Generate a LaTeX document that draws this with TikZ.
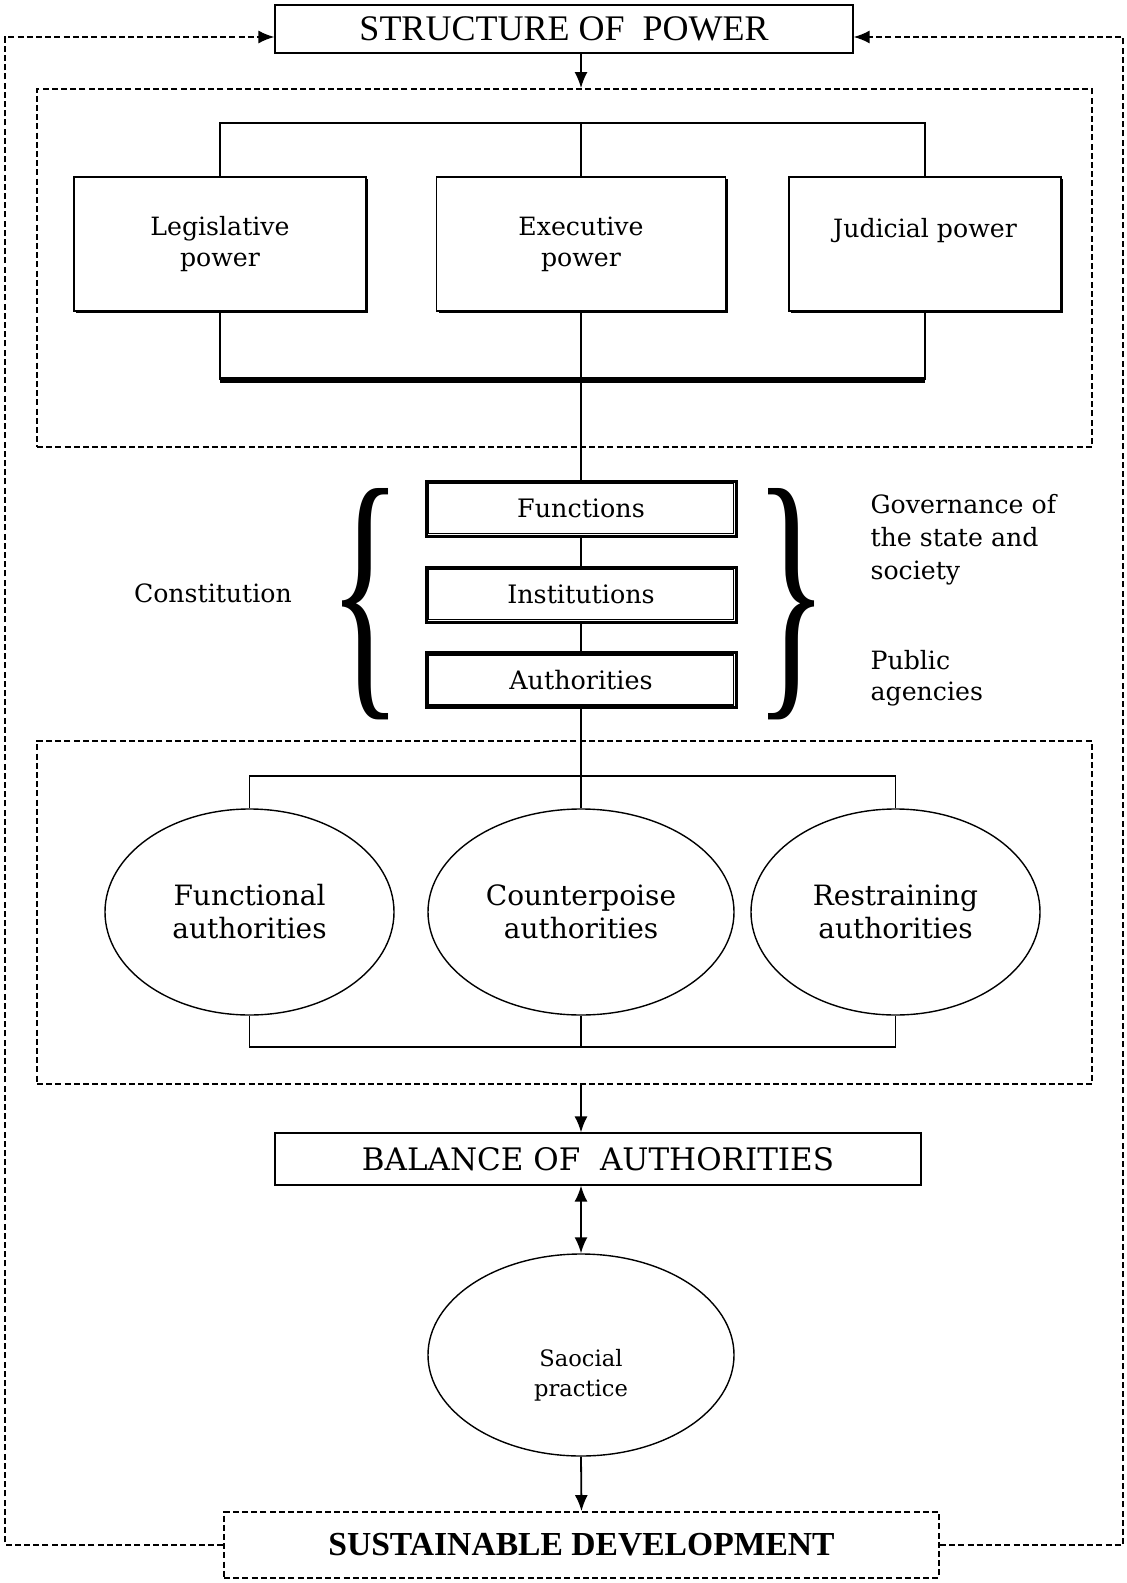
\documentclass[tikz,border=0pt]{standalone}
\usepackage{fontspec}
\setmainfont{DejaVu Serif}
\newfontfamily\capsfont{Liberation Serif}
\usepackage{graphicx}
\usetikzlibrary{positioning, shapes.geometric, shadows, calc, arrows.meta}

\begin{document}
\begin{tikzpicture}[x=0.5pt, y=-0.5pt, line width=0.6pt, >={Latex[length=8pt,width=6.5pt]},
headbox/.style={rectangle, draw, fill=white, inner sep=0pt, align=center},
power/.style={rectangle, draw, fill=white, minimum height=67pt, inner sep=0pt, align=center,
  font=\fontsize{12.6}{15.6}\selectfont,
  drop shadow={shadow xshift=1.2pt, shadow yshift=-1.2pt, fill=black, opacity=1}},
dbox/.style={rectangle, draw, line width=1.5pt, fill=white, minimum width=155pt, minimum height=27.5pt,
  inner sep=0pt, font=\fontsize{12.7}{14}\selectfont},
region/.style={rectangle, draw, dash pattern=on 3pt off 1.6pt, line width=0.9pt, inner sep=0pt},
auth/.style={ellipse, draw, line width=0.7pt, minimum width=144.5pt, minimum height=103pt, inner sep=0pt,
  align=center, font=\fontsize{14}{16.5}\selectfont},
side/.style={align=left, inner sep=0pt, font=\fontsize{12.6}{16.5}\selectfont},
feedback/.style={dash pattern=on 3pt off 1.6pt, line width=0.9pt}]
    \useasboundingbox (0,0) rectangle (1127,1583);

    \node[headbox, minimum width=289pt, minimum height=24pt, font=\capsfont\fontsize{18}{20}\selectfont]
      (top) at (564,29) {STRUCTURE OF~~POWER};

    \node[region, minimum width=527.5pt, minimum height=179pt](pb) at (564.5,268) {};
    \node[power, minimum width=146pt](leg) at (220,244) {Legislative\\ power};
    \node[power, minimum width=144.5pt](exe) at (581,244) {Executive\\ power};
    \node[power, minimum width=136pt](jud) at (925,244) {Judicial power\\ \mbox{}};

    \node[dbox](fn) at (581,508.5) {Functions};
    \node[dbox](in) at (581,594.5) {Institutions};
    \node[dbox](au) at (581,680) {Authorities};
    \foreach \n in {fn,in,au}
      \draw ([shift={(4,4)}]\n.north west) rectangle ([shift={(-4,-4)}]\n.south east);

    \node[inner sep=0pt](lb) at (366,604.5) {\resizebox{37pt}{97pt}{\capsfont\{}};
    \node[inner sep=0pt](rb) at (792,604.5) {\resizebox{37pt}{97pt}{\capsfont\}}};
    \node[side, left=18pt of lb, yshift=5.5pt](con) {Constitution};
    \node[side, anchor=west](gov) at (870,540) {Governance of\\ the state and\\ society};
    \node[side, anchor=west, font=\fontsize{12.6}{15.5}\selectfont](pub) at (870,678) {Public\\ agencies};

    \node[region, minimum width=527.5pt, minimum height=171.5pt](ab) at (564.5,912.5) {};
    \node[auth](fa) at (249.5,912) {Functional\\ authorities};
    \node[auth, minimum width=153pt](ca) at (581,912) {Counterpoise\\ authorities};
    \node[auth](ra) at (895.5,912) {Restraining\\ authorities};

    \node[headbox, minimum width=323pt, minimum height=26pt, font=\fontsize{15.5}{17}\selectfont]
      (bal) at (598,1159) {BALANCE OF~~AUTHORITIES};
    \node[auth, minimum width=153pt, minimum height=101pt,
      label={[align=center, yshift=-10pt, font=\fontsize{11.3}{15}\selectfont]center:Saocial\\ practice}]
      (sp) at (581,1355) {};
    \node[region, fill=white, minimum width=357.5pt, minimum height=33pt,
      font=\capsfont\bfseries\fontsize{16.8}{18}\selectfont](sd) at (581.5,1545) {SUSTAINABLE DEVELOPMENT};

    % tree of the three powers
    \coordinate (ptop) at (581,123);
    \coordinate (pbar) at (581,380);
    \draw (leg.north) |- (ptop) -| (jud.north);
    \draw (exe.north) -- (ptop);
    \draw (leg.south) -- (leg.south |- pbar);
    \draw (jud.south) -- (jud.south |- pbar);
    \draw[line width=3pt] (leg.south |- pbar) -- (jud.south |- pbar);
    \draw (exe.south) -- (fn.north);
    \draw (fn.south) -- (in.north);
    \draw (in.south) -- (au.north);

    % tree of the authorities
    \coordinate (atop) at (581,776);
    \coordinate (abot) at (581,1047);
    \draw (au.south) -- (atop);
    \draw (fa.north) |- (atop) -| (ra.north);
    \draw (ca.north) -- (atop);
    \draw (fa.south) |- (abot) -| (ra.south);
    \draw (ca.south) -- (abot);

    \draw[->, line width=0.9pt] (top.south -| fn) -- (pb.north -| fn);
    \draw[->, line width=0.9pt] (ab.south -| fn) -- (bal.north -| fn);
    \draw[<->, line width=0.9pt] (bal.south -| fn) -- (sp.north);
    \draw[->, line width=0.9pt] (sp.south) -- (sd.north);

    \coordinate (lc) at (5,37);
    \coordinate (rc) at (1123,37);
    \draw[feedback, ->] (sd.west) -| (lc) -- (lc -| top.west);
    \draw[feedback, ->] (sd.east) -| (rc) -- (rc -| top.east);
\end{tikzpicture}
\end{document}
